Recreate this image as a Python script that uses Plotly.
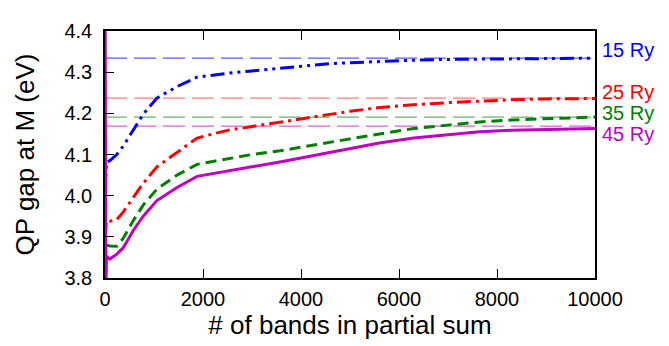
import plotly.graph_objects as go

# Number of bands in the partial sum
n_bands = [1, 15, 30, 100, 240, 370, 580, 780, 1060, 1470, 1880, 2200, 2550, 3000,
           3570, 4000, 4500, 5000, 5600, 6300, 7000, 7650, 8300, 9000, 10000]

gap_15ry = [4.00, 4.05, 4.082, 4.085, 4.10, 4.12, 4.16, 4.198, 4.237, 4.265, 4.288, 4.293,
            4.298, 4.303, 4.310, 4.315, 4.320, 4.323, 4.326, 4.329, 4.331, 4.332, 4.333,
            4.333, 4.334]
gap_25ry = [3.90, 3.93, 3.939, 3.938, 3.942, 3.96, 3.997, 4.03, 4.07, 4.105, 4.14, 4.15,
            4.16, 4.168, 4.179, 4.187, 4.197, 4.205, 4.214, 4.221, 4.226, 4.230, 4.233,
            4.235, 4.236]
gap_35ry = [3.84, 3.87, 3.880, 3.878, 3.877, 3.896, 3.94, 3.977, 4.016, 4.05, 4.076, 4.083,
            4.09, 4.10, 4.109, 4.118, 4.128, 4.138, 4.150, 4.163, 4.171, 4.179, 4.184,
            4.187, 4.191]
gap_45ry = [4.60, 3.75, 3.853, 3.846, 3.858, 3.873, 3.916, 3.95, 3.988, 4.02, 4.047, 4.054,
            4.06, 4.07, 4.082, 4.092, 4.103, 4.115, 4.128, 4.140, 4.148, 4.155, 4.159,
            4.161, 4.163]

# Converged (extrapolated) values
cutoff_labels = ["15 Ry", "25 Ry", "35 Ry", "45 Ry"]
converged = [4.334, 4.237, 4.191, 4.169]
x_range = [0, 10000]

x_tickvals = [0, 2000, 4000, 6000, 8000, 10000]
x_ticktext = ["0", "2000", "4000", "6000", "8000", "10000"]
y_tickvals = [3.8, 3.9, 4.0, 4.1, 4.2, 4.3, 4.4]

series = [gap_15ry, gap_25ry, gap_35ry, gap_45ry]
colors = ["#0000ff", "#ff0000", "#008000", "#c000c0"]
light_colors = ["#5a5aff", "#ff7f7f", "#6fb06f", "#e05ae0"]
dashes = ["14px,5px,3px,5px,3px,5px", "14px,5px,3px,5px", "11px,6px", "solid"]
label_y = [4.353, 4.253, 4.200, 4.151]

FONT = "Liberation Sans, Arial, sans-serif"

fig = go.Figure()

for i in range(4):
    fig.add_trace(go.Scatter(
        x=x_range, y=[converged[i], converged[i]], mode="lines",
        line=dict(color=light_colors[i], width=1.3, dash="22px,7px"),
        showlegend=False, hoverinfo="skip"))

for i in range(4):
    fig.add_trace(go.Scatter(
        x=n_bands, y=series[i], mode="lines",
        line=dict(color=colors[i], width=3, dash=dashes[i]),
        name=cutoff_labels[i], showlegend=False))

for i in range(4):
    fig.add_annotation(
        x=1.0, xref="paper", xshift=5, y=label_y[i], yref="y",
        text=cutoff_labels[i], showarrow=False, xanchor="left", yanchor="middle",
        font=dict(color=colors[i], size=20, family=FONT))

fig.update_layout(
    width=661, height=338,
    margin=dict(l=97, r=74, t=12, b=68),
    plot_bgcolor="white", paper_bgcolor="white",
    font=dict(family=FONT, size=20, color="black"),
    xaxis=dict(range=[0, 10000], tickvals=x_tickvals, ticktext=x_ticktext,
               ticks="inside", ticklen=9, tickcolor="black", mirror="ticks",
               showline=True, linecolor="black", linewidth=1.5, showgrid=False,
               zeroline=False, ticklabelstandoff=2,
               title=dict(text="# of bands in partial sum", font=dict(size=26), standoff=4)),
    yaxis=dict(range=[3.8, 4.4], tickvals=y_tickvals,
               tickformat=".1f",
               ticks="inside", ticklen=9, tickcolor="black", mirror=True,
               showline=True, linecolor="black", linewidth=1.5, showgrid=False,
               zeroline=False, ticklabelstandoff=7,
               title=dict(text="QP gap at M (eV)", font=dict(size=26), standoff=22)),
)

fig.write_html("out.html")
